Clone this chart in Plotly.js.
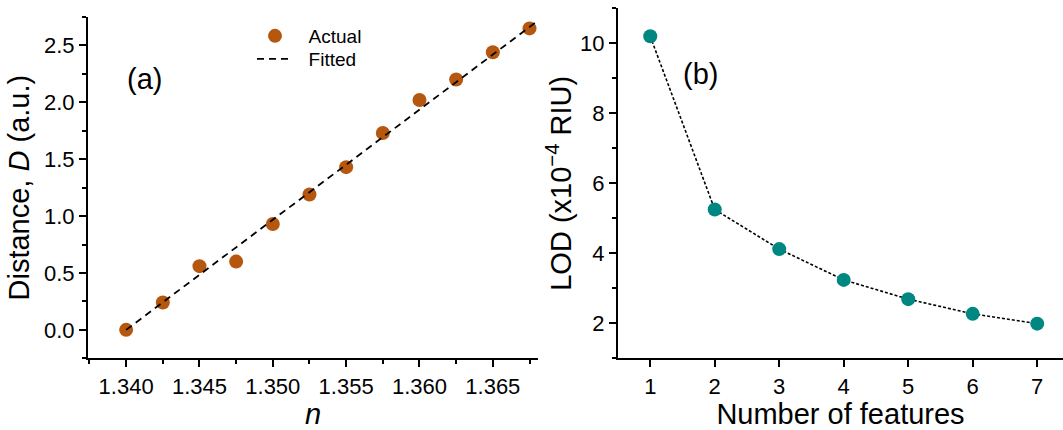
<!DOCTYPE html>
<html>
<head>
<meta charset="utf-8">
<script src="https://cdn.plot.ly/plotly-3.0.1.min.js"></script>
<style>html,body{margin:0;padding:0;background:#fff;}#chart{width:1063px;height:430px;}</style>
</head>
<body>
<div id="chart"></div>
<script>
// Panel (a) data
const nValues = [1.340, 1.3425, 1.345, 1.3475, 1.350, 1.3525, 1.355, 1.3575, 1.360, 1.3625, 1.365, 1.3675];
const distanceActual = [0.00, 0.24, 0.56, 0.60, 0.93, 1.19, 1.43, 1.73, 2.02, 2.20, 2.44, 2.65];
const fitN = [1.340, 1.368];
const fitD = [0.00, 2.71];
const seriesNames = ["Actual", "Fitted"];
// Panel (b) data
const features = [1, 2, 3, 4, 5, 6, 7];
const lod = [10.2, 5.25, 4.12, 3.24, 2.69, 2.27, 1.99];

const W = 1063, H = 430;
const FONT = "Liberation Sans, Arial, sans-serif";
const brown = "#B5570F";
const teal = "#008782";
const pad = "\u00A0\u00A0";

const px = v => v / W;
const py = v => 1 - v / H;

const traces = [
  {x: nValues, y: distanceActual, type: "scatter", mode: "markers", name: pad + seriesNames[0], legend: "legend",
   marker: {color: brown, size: 14}, xaxis: "x", yaxis: "y", cliponaxis: false},
  {x: fitN, y: fitD, type: "scatter", mode: "lines", name: pad + seriesNames[1], legend: "legend2",
   line: {color: "#000", width: 1.8, dash: "7px,5px"}, xaxis: "x", yaxis: "y"},
  {x: features, y: lod, type: "scatter", mode: "lines+markers", name: "LOD", showlegend: false,
   line: {color: "#000", width: 1.6, dash: "3px,2px"},
   marker: {color: teal, size: 14}, xaxis: "x2", yaxis: "y2", cliponaxis: false}
];

const axCommon = {
  showgrid: false, zeroline: false, showline: true, linecolor: "#000", linewidth: 2,
  ticks: "outside", ticklen: 7, tickwidth: 2, tickcolor: "#000",
  tickfont: {family: FONT, size: 22, color: "#000"}, automargin: false
};
const minorStyle = {ticklen: 4, tickwidth: 2, tickcolor: "#000", ticks: "outside", showgrid: false};
const titleFont = {family: FONT, size: 29, color: "#000"};
const legendFont = {family: FONT, size: 19, color: "#000"};

const layout = {
  width: W, height: H,
  margin: {l: 0, r: 0, t: 0, b: 0},
  paper_bgcolor: "#fff", plot_bgcolor: "#fff",
  font: {family: FONT, color: "#000"},
  showlegend: true,
  legend: {x: px(252), y: py(17), xanchor: "left", yanchor: "top", itemwidth: 36,
           bgcolor: "rgba(0,0,0,0)", font: legendFont},
  legend2: {x: px(252), y: py(40), xanchor: "left", yanchor: "top", itemwidth: 36,
           bgcolor: "rgba(0,0,0,0)", font: legendFont},
  xaxis: Object.assign({}, axCommon, {
    domain: [px(88), px(538.3)], range: [1.3374, 1.3681], anchor: "y",
    dtick: 0.005, tick0: 1.340, tickformat: ".3f",
    minor: Object.assign({dtick: 0.0025, tick0: 1.340}, minorStyle),
    title: {text: "<i>n</i>", font: titleFont, standoff: 30}
  }),
  yaxis: Object.assign({}, axCommon, {
    domain: [1 - 358.3 / H, 1 - 17 / H], range: [-0.25, 2.75], anchor: "x",
    dtick: 0.5, tick0: 0, tickformat: ".1f",
    minor: Object.assign({dtick: 0.25, tick0: 0}, minorStyle),
    title: {text: "Distance, <i>D</i> (a.u.)", font: titleFont, standoff: 6}
  }),
  xaxis2: Object.assign({}, axCommon, {
    domain: [px(618), 1], range: [0.5, 7.4], anchor: "y2",
    dtick: 1, tick0: 1,
    title: {text: "Number of features", font: titleFont, standoff: 10}
  }),
  yaxis2: Object.assign({}, axCommon, {
    domain: [1 - 358.3 / H, 1 - 8.3 / H], range: [1, 11], anchor: "x2",
    dtick: 2, tick0: 0,
    minor: Object.assign({dtick: 1, tick0: 0}, minorStyle),
    title: {text: "LOD (x10<sup>−4</sup> RIU)", font: titleFont, standoff: 0}
  }),
  annotations: [
    {text: "(a)", xref: "paper", yref: "paper", x: px(144), y: py(79), xanchor: "center", yanchor: "middle",
     showarrow: false, font: {family: FONT, size: 29, color: "#000"}},
    {text: "(b)", xref: "paper", yref: "paper", x: px(700), y: py(74), xanchor: "center", yanchor: "middle",
     showarrow: false, font: {family: FONT, size: 29, color: "#000"}}
  ]
};

Plotly.newPlot("chart", traces, layout, {staticPlot: true, displayModeBar: false});
</script>
</body>
</html>
